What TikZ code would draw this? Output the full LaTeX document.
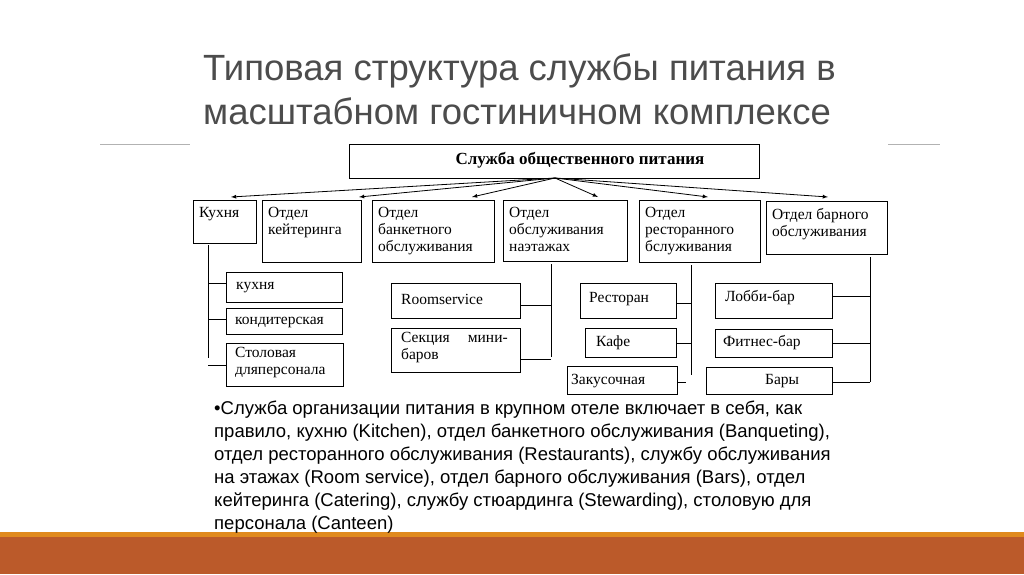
\documentclass[tikz,border=0pt]{standalone}
\usepackage{fontspec}
\setmainfont{Liberation Serif}
\newfontfamily\titlefont{Liberation Sans}
\newfontfamily\bodyfont{Liberation Sans}
\definecolor{stripe}{HTML}{E08A1E}
\definecolor{brown}{HTML}{BB5A2A}
\begin{document}
\begin{tikzpicture}[x=1pt,y=-1pt,
  tx/.style={inner sep=0pt,font=\fontsize{15.5}{17}\selectfont},
  ln/.style={line width=0.8pt},
  ar/.style={line width=0.8pt,-latex}]
\useasboundingbox (0,0) rectangle (1024,574);
\fill[white] (0,0) rectangle (1024,574);
% title
\node[anchor=north west,inner sep=0pt,align=left,text=black!70,font=\titlefont\fontsize{36.5}{44}\selectfont] (title) at (203,54) {Типовая структура службы питания в\\масштабном гостиничном комплексе};
\draw[black!30,line width=0.7pt] (100,144) -- (190,144) (888,144) -- (940,144);
\newcommand\bxx[6]{\draw[line width=0.9pt] (#1,#2) rectangle (#3,#4); \node[tx,anchor=north west,align=left] (#5) at (#1+6,#2+7) {#6};}
\draw[line width=0.9pt] (349,144) rectangle (759,178);
\node[font=\bfseries\fontsize{17}{19}\selectfont,inner sep=0pt] (top) at (580,160) {Служба общественного питания};
\coordinate (src) at (555,178);
\bxx{193}{200}{256}{243}{kux}{Кухня}
\bxx{262}{200}{361}{262}{kei}{Отдел\\кейтеринга}
\bxx{372}{200}{494}{262}{ban}{Отдел\\банкетного\\обслуживания}
\bxx{503}{200}{627}{261}{eta}{Отдел\\обслуживания\\наэтажах}
\bxx{639}{200}{760}{262}{res}{Отдел\\ресторанного\\бслуживания}
\bxx{766}{201}{887}{254}{bar}{Отдел барного\\обслуживания}
\foreach \x/\n in {231/a1,359/a2,472/a3,598/a4,708/a5,828/a6}{\coordinate (\n) at (\x,197); \draw[ar] (src) -- (\n);}
% kitchen
\draw[line width=0.9pt] (226,272) rectangle (342,302); \node[tx,anchor=west] (k1) at (236,288) {кухня};
\draw[line width=0.9pt] (226,308) rectangle (342,334); \node[tx,anchor=west] (k2) at (235,322) {кондитерская};
\draw[line width=0.9pt] (226,343) rectangle (343,386); \node[tx,anchor=north west,align=left] (k3) at (235,347) {Столовая\\дляперсонала};
\draw[ln] (208,245) -- (208,358) (208,283) -- (226,283) (208,319) -- (226,319) (208,365) -- (226,365);
% floors
\draw[line width=0.9pt] (391,283) rectangle (520,318); \node[tx,anchor=west] (f1) at (401,299) {Roomservice};
\draw[line width=0.9pt] (391,328) rectangle (520,372); \node[tx,anchor=north west,align=left] (f2) at (401,332) {Секция\hspace{18pt}мини-\\баров};
\draw[ln] (551,264) -- (551,357) (520,305) -- (551,305) (520,359) -- (551,359);
% restaurants
\draw[line width=0.9pt] (580,283) rectangle (676,318); \node[tx,anchor=west] (r1) at (589,299) {Ресторан};
\draw[line width=0.9pt] (585,328) rectangle (676,357); \node[tx,anchor=west] (r2) at (596,343) {Кафе};
\draw[line width=0.9pt] (567,366) rectangle (677,394); \node[tx,anchor=west] (r3) at (571,381) {Закусочная};
\draw[ln] (691,265) -- (691,375) (676,303) -- (691,303) (676,343) -- (691,343) (677,382) -- (686,382);
% bars
\draw[line width=0.9pt] (715,283) rectangle (832,318); \node[tx,anchor=west] (b1) at (725,298) {Лобби-бар};
\draw[line width=0.9pt] (715,329) rectangle (832,357); \node[tx,anchor=west] (b2) at (723,343) {Фитнес-бар};
\draw[line width=0.9pt] (706,367) rectangle (832,394); \node[tx,anchor=west] (b3) at (765,381) {Бары};
\draw[ln] (870,257) -- (870,382) (832,296) -- (870,296) (832,343) -- (870,343) (832,382) -- (870,382);
% bottom bar
\fill[stripe] (0,532) rectangle (1024,538);
\fill[brown] (0,537) rectangle (1024,574);
% body
\node[anchor=north west,inner sep=0pt,align=left,font=\bodyfont\fontsize{18.5}{23}\selectfont] (body) at (214,401) {•Служба организации питания в крупном отеле включает в себя, как\\правило, кухню (Kitchen), отдел банкетного обслуживания (Banqueting),\\отдел ресторанного обслуживания (Restaurants), службу обслуживания\\на этажах (Room service), отдел барного обслуживания (Bars), отдел\\кейтеринга (Catering), службу стюардинга (Stewarding), столовую для\\персонала (Canteen)};
\end{tikzpicture}
\end{document}
